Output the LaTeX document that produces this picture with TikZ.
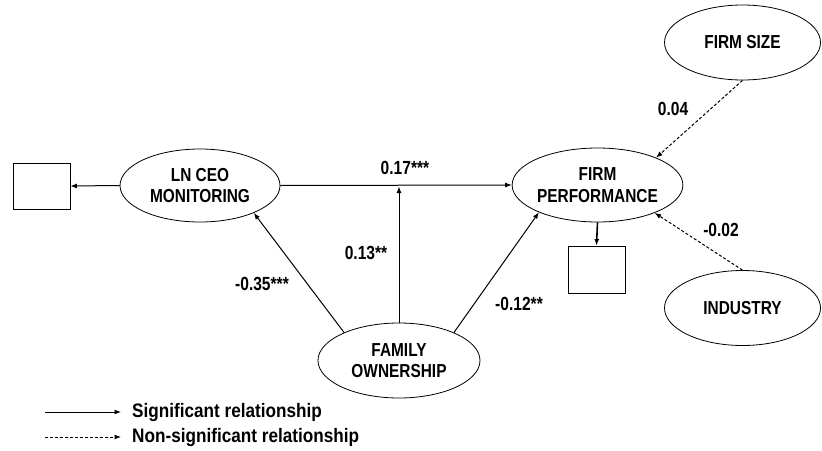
\documentclass[tikz,border=0pt]{standalone}
\usepackage{fontspec}
\setmainfont{Liberation Sans}
\newfontfamily\nodefont{Liberation Sans}[FakeStretch=0.82]
\newfontfamily\legfont{Liberation Sans}[FakeStretch=0.88]
\usetikzlibrary{shapes.geometric,arrows.meta}
\begin{document}
\begin{tikzpicture}[x=1pt,y=-1pt,
  latent/.style={draw,line width=0.8pt,ellipse,inner sep=0pt,align=center,
    font=\nodefont\fontsize{18.8}{21.5}\selectfont\bfseries},
  obsbox/.style={draw,line width=0.8pt,minimum width=57pt,minimum height=46pt,inner sep=0pt},
  path/.style={line width=1pt,-{Latex[length=6.5pt,width=5pt]}},
  nspath/.style={path,dashed,dash pattern=on 3pt off 2pt},
  coef/.style={font=\nodefont\fontsize{19}{21}\selectfont\bfseries,inner sep=0pt},
  legtext/.style={font=\legfont\fontsize{19.5}{21}\selectfont\bfseries,anchor=west,inner sep=0pt}]
\useasboundingbox (0,0) rectangle (822,450);
\node[obsbox] (b1) at (41.5,186) {};
\node[latent,minimum width=160pt,minimum height=73pt] (ceo) at (200,185.5) {LN CEO\\MONITORING};
\node[latent,minimum width=161pt,minimum height=74pt] (fp) at (597.5,185) {FIRM\\PERFORMANCE};
\node[latent,minimum width=156pt,minimum height=75pt] (fs) at (742.5,42.5) {FIRM SIZE};
\node[latent,minimum width=156pt,minimum height=75pt] (ind) at (742.5,308) {INDUSTRY};
\node[obsbox,minimum height=47pt] (b2) at (596.5,269.5) {};
\node[latent,minimum width=162pt,minimum height=75pt] (fo) at (399,360.5) {FAMILY\\OWNERSHIP};
\coordinate (m) at (399,186.5);
\draw[path] (ceo.west) -- (b1.east);
\draw[path] (ceo.east) -- (fp.west);
\draw[path] (fo.north) -- (m);
\draw[path] (fo.153) -- (ceo.-27);
\draw[path] (fo.27) -- (fp.-155);
\draw[path,line width=1.6pt] (fp.south) -- (b2.north);
\draw[nspath] (fs.south) -- (fp.25);
\draw[nspath] (ind.north) -- (fp.-26);
\node[coef] (c1) at (405,168) {0.17***};
\node[coef] (c2) at (366,253) {0.13**};
\node[coef] (c3) at (262,284) {-0.35***};
\node[coef] (c4) at (519,304) {-0.12**};
\node[coef] (c5) at (673,109) {0.04};
\node[coef] (c6) at (721,230) {-0.02};
\coordinate (l1a) at (45,412);
\coordinate (l1b) at (121,412);
\coordinate (l2a) at (45,437);
\coordinate (l2b) at (121,437);
\draw[path] (l1a) -- (l1b);
\draw[nspath] (l2a) -- (l2b);
\node[legtext] (t1) at (132,412) {Significant relationship};
\node[legtext] (t2) at (132,437) {Non-significant relationship};
\end{tikzpicture}
\end{document}
